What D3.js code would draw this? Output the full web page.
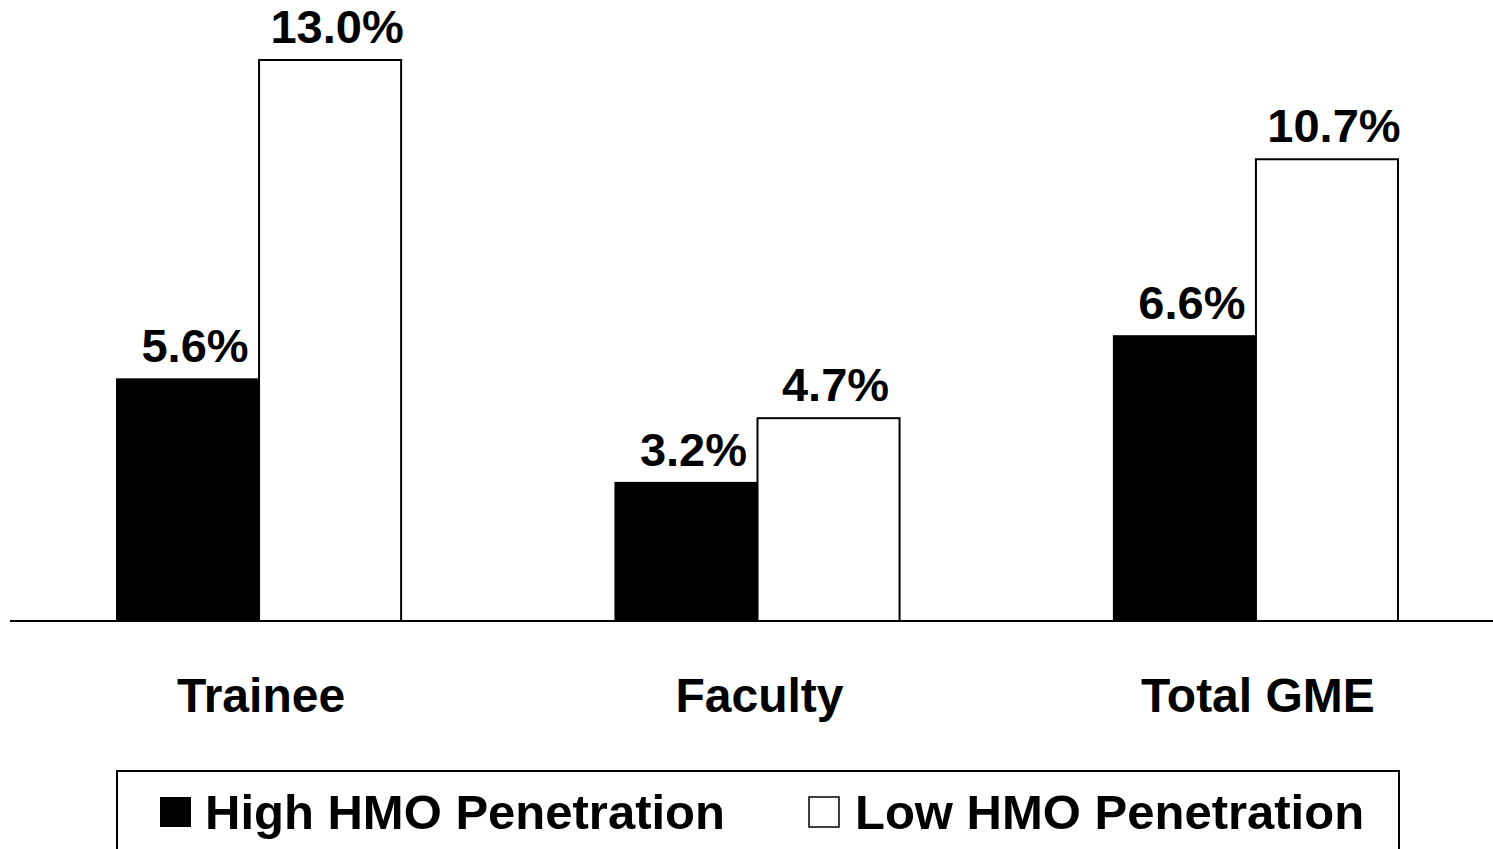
<!DOCTYPE html>
<html lang="en">
  <head>
    <meta charset="utf-8">
    <script src="https://cdn.jsdelivr.net/npm/d3@7"></script>
    <style>
      body { margin: 0; background: white; }
      text { font-family: "Liberation Sans", Arial, sans-serif; font-weight: bold; fill: black; }
    </style>
  </head>
  <body>
    <script>
      // chart data
      var categories = ["Trainee", "Faculty", "Total GME"];
      var series = ["High HMO Penetration", "Low HMO Penetration"];
      var highValues = [5.6, 3.2, 6.6];
      var lowValues = [13.0, 4.7, 10.7];

      var w = 1493, h = 849;
      var baseline = 621;

      var svg = d3.select("body").append("svg")
        .attr("width", w).attr("height", h);

      // band scale for groups, inner band for the two bars
      var x0 = d3.scaleBand()
        .domain(categories)
        .range([117, 1398])
        .paddingInner(0.43)
        .paddingOuter(0);
      var x1 = d3.scaleBand()
        .domain(series)
        .range([0, x0.bandwidth()]);

      var y = d3.scaleLinear()
        .domain([0, 13])
        .range([baseline, 60]);

      var rows = categories.map(function(c, i) {
        return { cat: c, vals: [highValues[i], lowValues[i]] };
      });

      var groups = svg.selectAll("g.group")
        .data(rows)
        .enter().append("g")
        .attr("class", "group")
        .attr("transform", function(d) { return "translate(" + x0(d.cat) + ",0)"; });

      groups.selectAll("rect")
        .data(function(d) { return d.vals.map(function(v, j) { return { s: series[j], v: v }; }); })
        .enter().append("rect")
        .attr("x", function(d) { return x1(d.s); })
        .attr("y", function(d) { return y(d.v); })
        .attr("width", x1.bandwidth())
        .attr("height", function(d) { return baseline - y(d.v); })
        .attr("fill", function(d, j) { return j === 0 ? "black" : "white"; })
        .attr("stroke", "black")
        .attr("stroke-width", 2);

      // value labels
      groups.selectAll("text.val")
        .data(function(d) { return d.vals.map(function(v, j) { return { s: series[j], v: v }; }); })
        .enter().append("text")
        .attr("class", "val")
        .attr("x", function(d) { return x1(d.s) + x1.bandwidth() / 2 + 7; })
        .attr("y", function(d) { return y(d.v) - 17; })
        .attr("text-anchor", "middle")
        .attr("font-size", 47)
        .text(function(d) { return d.v.toFixed(1) + "%"; });

      // x axis baseline
      svg.append("line")
        .attr("x1", 10).attr("x2", w)
        .attr("y1", baseline).attr("y2", baseline)
        .attr("stroke", "black").attr("stroke-width", 2);

      // category labels
      svg.selectAll("text.cat")
        .data(categories)
        .enter().append("text")
        .attr("class", "cat")
        .attr("x", function(d) { return x0(d) + x0.bandwidth() / 2 + 2; })
        .attr("y", 712)
        .attr("text-anchor", "middle")
        .attr("font-size", 48)
        .text(function(d) { return d; });

      // legend
      svg.append("rect")
        .attr("x", 117).attr("y", 771)
        .attr("width", 1282).attr("height", 100)
        .attr("fill", "white").attr("stroke", "black").attr("stroke-width", 2);

      var legendX = [160, 808];
      var leg = svg.selectAll("g.leg")
        .data(series)
        .enter().append("g")
        .attr("class", "leg")
        .attr("transform", function(d, i) { return "translate(" + legendX[i] + ",0)"; });
      leg.append("rect")
        .attr("x", function(d, i) { return i === 0 ? 0 : 1; })
        .attr("y", 797)
        .attr("width", function(d, i) { return i === 0 ? 31 : 30; })
        .attr("height", 30)
        .attr("fill", function(d, i) { return i === 0 ? "black" : "white"; })
        .attr("stroke", function(d, i) { return i === 0 ? "none" : "black"; })
        .attr("stroke-width", 1.5);
      leg.append("text")
        .attr("x", function(d, i) { return i === 0 ? 45 : 47; })
        .attr("y", 829)
        .attr("font-size", 49)
        .text(function(d) { return d; });
    </script>
  </body>
</html>
